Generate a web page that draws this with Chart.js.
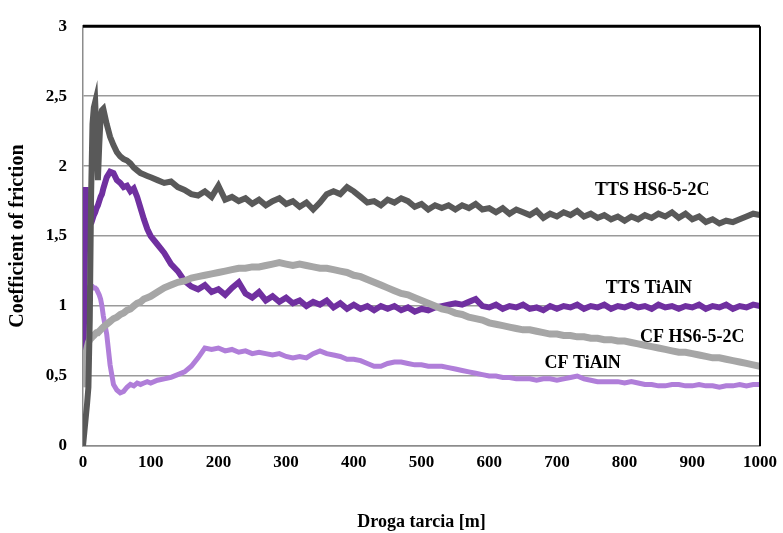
<!DOCTYPE html>
<html>
<head>
<meta charset="utf-8">
<script src="https://cdn.jsdelivr.net/npm/chart.js@4"></script>
<style>
  html, body { margin: 0; padding: 0; background: #fff; }
  #wrap { width: 783px; height: 533px; }
</style>
</head>
<body>
<div id="wrap"><canvas id="frictionChart"></canvas></div>
<script>
/* friction coefficient vs. sliding distance */

const distance = [
  0, 2, 4, 6, 8, 10, 12, 14, 16, 18, 20, 22, 24, 26, 28, 30,
  35, 40, 45, 50, 55, 60, 65, 70, 75, 80, 85, 90, 95,
  100, 110, 120, 130, 140, 150, 160, 170, 180, 190,
  200, 210, 220, 230, 240, 250, 260, 270, 280, 290,
  300, 310, 320, 330, 340, 350, 360, 370, 380, 390,
  400, 410, 420, 430, 440, 450, 460, 470, 480, 490,
  500, 510, 520, 530, 540, 550, 560, 570, 580, 590,
  600, 610, 620, 630, 640, 650, 660, 670, 680, 690,
  700, 710, 720, 730, 740, 750, 760, 770, 780, 790,
  800, 810, 820, 830, 840, 850, 860, 870, 880, 890,
  900, 910, 920, 930, 940, 950, 960, 970, 980, 990,
  1000
];

// TTS HS6-5-2C
const ttsHss = [
  0, 0.1, 0.2, 0.3, 0.42, 0.9, 1.8, 2.3, 2.42, 2.46, 2.2, 1.9, 2.15, 2.35, 2.4, 2.41,
  2.3, 2.21, 2.15, 2.1, 2.07, 2.05, 2.04, 2.02, 1.99, 1.97, 1.95, 1.94, 1.93,
  1.92, 1.9, 1.88, 1.89, 1.85, 1.83, 1.8, 1.79, 1.82, 1.78,
  1.86, 1.76, 1.78, 1.75, 1.77, 1.73, 1.76, 1.72, 1.75, 1.77,
  1.73, 1.75, 1.71, 1.74, 1.69, 1.74, 1.8, 1.82, 1.8, 1.85,
  1.82, 1.78, 1.74, 1.75, 1.72, 1.76, 1.74, 1.77, 1.75, 1.71,
  1.73, 1.69, 1.72, 1.7, 1.72, 1.69, 1.72, 1.7, 1.73, 1.69,
  1.7, 1.67, 1.7, 1.66, 1.69, 1.67, 1.65, 1.68, 1.63, 1.66,
  1.64, 1.67, 1.65, 1.68, 1.64, 1.66, 1.63, 1.65, 1.62, 1.64,
  1.61, 1.64, 1.62, 1.65, 1.63, 1.66, 1.64, 1.67, 1.63, 1.66,
  1.62, 1.64, 1.6, 1.62, 1.59, 1.61, 1.6, 1.62, 1.64, 1.66,
  1.65
];

// TTS TiAlN
const ttsTialn = [
  0.55, 1.0, 1.85, 1.62, 1.6, 1.61, 1.63, 1.62, 1.65, 1.67, 1.7, 1.72, 1.75, 1.78, 1.8, 1.84,
  1.92, 1.96, 1.95, 1.9, 1.88, 1.85, 1.86, 1.82, 1.84, 1.78, 1.7, 1.62, 1.55,
  1.5, 1.44, 1.38, 1.3, 1.25, 1.18, 1.14, 1.12, 1.15, 1.1,
  1.12, 1.08, 1.13, 1.17, 1.09, 1.06, 1.1, 1.04, 1.07, 1.03,
  1.06, 1.02, 1.04, 1.0, 1.03, 1.01, 1.04, 0.99, 1.02, 0.98,
  1.01, 0.98, 1.0, 0.97, 1.0, 0.98, 1.0, 0.97, 0.99, 0.96,
  0.98, 0.97, 0.99, 1.0, 1.01, 1.02, 1.01, 1.03, 1.05, 1.0,
  0.99, 1.01, 0.98, 1.0, 0.99, 1.01, 0.98, 0.99, 0.97, 1.0,
  0.98, 1.0, 0.99, 1.01, 0.98, 1.0, 0.99, 1.01, 0.98, 1.0,
  0.99, 1.01, 0.99, 1.0, 0.98, 1.01, 0.99, 1.0, 0.98, 1.0,
  0.99, 1.01, 0.98, 1.0, 0.99, 1.01, 0.98, 1.0, 0.99, 1.01,
  1.0
];

// CF HS6-5-2C
const cfHss = [
  0.42, 0.55, 0.65, 0.7, 0.74, 0.76, 0.77, 0.78, 0.79, 0.8, 0.81, 0.81, 0.82, 0.83, 0.84, 0.85,
  0.87, 0.89, 0.91, 0.92, 0.94, 0.95, 0.97, 0.98, 1.0, 1.02, 1.03, 1.05, 1.06,
  1.07, 1.1, 1.13, 1.15, 1.17, 1.18, 1.2, 1.21, 1.22, 1.23,
  1.24, 1.25, 1.26, 1.27, 1.27, 1.28, 1.28, 1.29, 1.3, 1.31,
  1.3, 1.29, 1.3, 1.29, 1.28, 1.27, 1.27, 1.26, 1.25, 1.24,
  1.22, 1.21, 1.19, 1.17, 1.15, 1.13, 1.11, 1.09, 1.08, 1.06,
  1.04, 1.02, 1.0, 0.98, 0.97, 0.95, 0.94, 0.92, 0.91, 0.9,
  0.88, 0.87, 0.86, 0.85, 0.84, 0.83, 0.83, 0.82, 0.81, 0.8,
  0.8, 0.79, 0.79, 0.78, 0.78, 0.77, 0.77, 0.76, 0.76, 0.75,
  0.75, 0.74, 0.73, 0.72, 0.71, 0.7, 0.69, 0.68, 0.67, 0.67,
  0.66, 0.65, 0.64, 0.63, 0.63, 0.62, 0.61, 0.6, 0.59, 0.58,
  0.57
];

// CF TiAlN
const cfTialn = [
  0.6, 1.0, 1.1, 1.12, 1.13, 1.14, 1.14, 1.14, 1.13, 1.13, 1.12, 1.1, 1.08, 1.05, 1.0, 0.93,
  0.8, 0.58, 0.44, 0.4, 0.38, 0.39, 0.42, 0.44, 0.43, 0.45, 0.44, 0.45, 0.46,
  0.45, 0.47, 0.48, 0.49, 0.51, 0.53, 0.57, 0.63, 0.7, 0.69,
  0.7, 0.68, 0.69, 0.67, 0.68, 0.66, 0.67, 0.66, 0.65, 0.66,
  0.64, 0.63, 0.64, 0.63, 0.66, 0.68, 0.66, 0.65, 0.64, 0.62,
  0.62, 0.61, 0.59, 0.57, 0.57, 0.59, 0.6, 0.6, 0.59, 0.58,
  0.58, 0.57, 0.57, 0.57, 0.56, 0.55, 0.54, 0.53, 0.52, 0.51,
  0.5, 0.5, 0.49, 0.49, 0.48, 0.48, 0.48, 0.47, 0.48, 0.48,
  0.47, 0.48, 0.49, 0.5, 0.48, 0.47, 0.46, 0.46, 0.46, 0.46,
  0.45, 0.46, 0.45, 0.44, 0.44, 0.43, 0.43, 0.44, 0.44, 0.43,
  0.43, 0.44, 0.43, 0.43, 0.42, 0.43, 0.43, 0.44, 0.43, 0.44,
  0.44
];

const yTicks = [0, 0.5, 1, 1.5, 2, 2.5, 3];

// curve names written inside the plot, anchored in data units
const curveLabels = [
  { text: 'TTS HS6-5-2C', x: 841, y: 1.83 },
  { text: 'TTS TiAlN',    x: 836, y: 1.13 },
  { text: 'CF HS6-5-2C',  x: 900, y: 0.78 },
  { text: 'CF TiAlN',     x: 738, y: 0.59 },
];

const SERIF = "'Liberation Serif', 'Times New Roman', serif";

const toPoints = ys => distance.map((d, i) => ({ x: d, y: ys[i] }));

const labelPlugin = {
  id: 'curveLabels',
  afterDatasetsDraw(chart) {
    const { ctx, scales: { x, y } } = chart;
    ctx.save();
    ctx.font = `bold 18px ${SERIF}`;
    ctx.fillStyle = '#000';
    ctx.textAlign = 'center';
    ctx.textBaseline = 'middle';
    curveLabels.forEach(l => {
      ctx.fillText(l.text, x.getPixelForValue(l.x), y.getPixelForValue(l.y));
    });
    ctx.restore();
  }
};

// black top / right frame like the original Excel chart
const framePlugin = {
  id: 'frame',
  afterDraw(chart) {
    const { ctx, chartArea: a } = chart;
    ctx.save();
    ctx.strokeStyle = '#000';
    ctx.lineWidth = 3;
    ctx.beginPath();
    ctx.moveTo(a.left, a.top);
    ctx.lineTo(a.right, a.top);
    ctx.stroke();
    ctx.lineWidth = 2;
    ctx.beginPath();
    ctx.moveTo(a.right, a.top);
    ctx.lineTo(a.right, a.bottom);
    ctx.stroke();
    ctx.restore();
  }
};

const ctx = document.getElementById('frictionChart').getContext('2d');
new Chart(ctx, {
  type: 'line',
  data: {
    datasets: [
      { label: 'TTS HS6-5-2C', data: toPoints(ttsHss),   borderColor: '#595959', borderWidth: 6 },
      { label: 'CF HS6-5-2C',  data: toPoints(cfHss),    borderColor: '#a6a6a6', borderWidth: 7 },
      { label: 'TTS TiAlN',    data: toPoints(ttsTialn), borderColor: '#7030a0', borderWidth: 6 },
      { label: 'CF TiAlN',     data: toPoints(cfTialn),  borderColor: '#b07ed9', borderWidth: 5 },
    ].map(ds => ({ ...ds, pointRadius: 0, tension: 0, fill: false }))
  },
  options: {
    responsive: true,
    maintainAspectRatio: false,
    animation: false,
    layout: { padding: { top: 21, right: 20, left: 0, bottom: 0 } },
    plugins: {
      legend: { display: false },
      tooltip: { enabled: false }
    },
    scales: {
      x: {
        type: 'linear',
        min: 0,
        max: 1000,
        afterFit: s => { s.height = 87; },
        ticks: {
          stepSize: 100,
          color: '#000',
          padding: 6,
          maxRotation: 0,
          font: { family: SERIF, size: 17, weight: 'bold' },
          callback: v => String(v)
        },
        grid: { display: false, drawTicks: false },
        border: { color: '#8c8c8c', width: 1.5 },
        title: {
          display: true,
          text: 'Droga tarcia [m]',
          color: '#000',
          padding: { top: 0, bottom: 0 },
          font: { family: SERIF, size: 18, weight: 'bold' }
        }
      },
      y: {
        type: 'linear',
        min: 0,
        max: 3,
        afterFit: s => { s.width = 83; },
        afterBuildTicks: s => { s.ticks = yTicks.map(v => ({ value: v })); },
        ticks: {
          color: '#000',
          padding: 16,
          font: { family: SERIF, size: 17, weight: 'bold' },
          callback: v => String(v).replace('.', ',')
        },
        grid: { color: '#9a9a9a', lineWidth: 1.5, drawTicks: false },
        border: { color: '#8c8c8c', width: 1.5 },
        title: {
          display: true,
          text: 'Coefficient of friction',
          color: '#000',
          padding: { top: 6, bottom: 0 },
          font: { family: SERIF, size: 20, weight: 'bold' }
        }
      }
    }
  },
  plugins: [labelPlugin, framePlugin]
});
</script>
</body>
</html>
